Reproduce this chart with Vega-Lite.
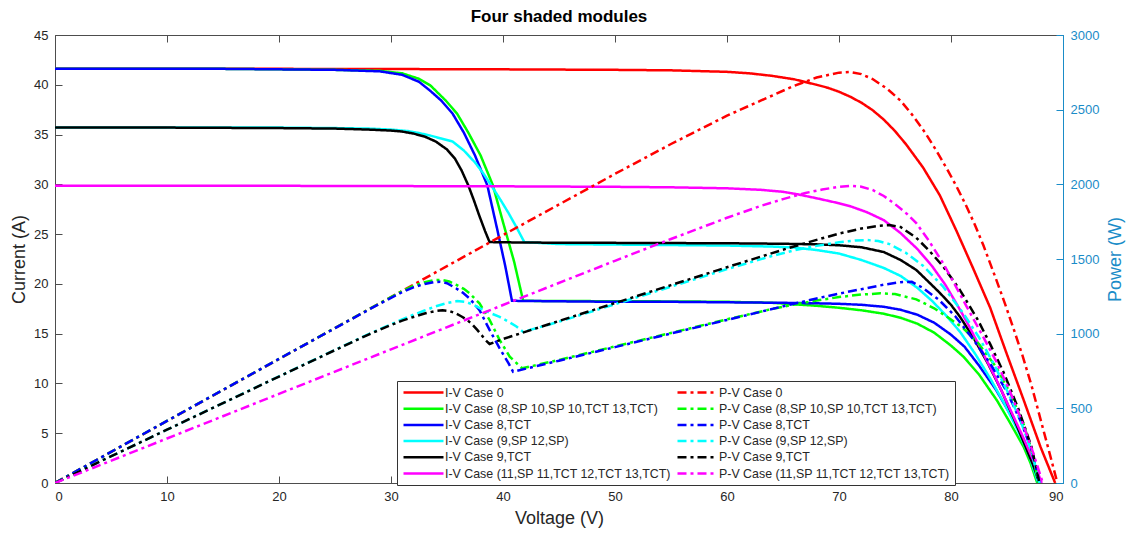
{
  "$schema": "https://vega.github.io/schema/vega-lite/v6.json",
  "width": 1008,
  "height": 448,
  "autosize": {"type": "none"},
  "padding": {"left": 55, "top": 35, "right": 69, "bottom": 51},
  "background": "white",
  "title": {"text": "Four shaded modules", "fontSize": 17, "fontWeight": "bold", "font": "Liberation Sans", "color": "#000000", "offset": 3, "anchor": "middle"},
  "datasets": {
    "iv": [
      {"s":"I-V Case 0","v":0,"y":41.6},{"s":"I-V Case 0","v":10,"y":41.6},{"s":"I-V Case 0","v":20,"y":41.6},{"s":"I-V Case 0","v":30,"y":41.58},{"s":"I-V Case 0","v":40,"y":41.55},{"s":"I-V Case 0","v":50,"y":41.5},{"s":"I-V Case 0","v":55,"y":41.45},{"s":"I-V Case 0","v":60,"y":41.3},{"s":"I-V Case 0","v":62,"y":41.15},{"s":"I-V Case 0","v":64,"y":40.9},{"s":"I-V Case 0","v":66,"y":40.55},{"s":"I-V Case 0","v":68,"y":40.0},{"s":"I-V Case 0","v":69,"y":39.7},{"s":"I-V Case 0","v":70,"y":39.3},{"s":"I-V Case 0","v":71,"y":38.8},{"s":"I-V Case 0","v":72,"y":38.2},{"s":"I-V Case 0","v":73,"y":37.45},{"s":"I-V Case 0","v":74,"y":36.5},{"s":"I-V Case 0","v":75,"y":35.35},{"s":"I-V Case 0","v":76,"y":34.0},{"s":"I-V Case 0","v":77.5,"y":31.7},{"s":"I-V Case 0","v":79,"y":28.9},{"s":"I-V Case 0","v":80.5,"y":25.3},{"s":"I-V Case 0","v":82,"y":21.5},{"s":"I-V Case 0","v":83.5,"y":17.6},{"s":"I-V Case 0","v":85,"y":12.9},{"s":"I-V Case 0","v":86.5,"y":8.3},{"s":"I-V Case 0","v":88,"y":3.6},{"s":"I-V Case 0","v":89.3,"y":0},
      {"s":"I-V Case (8,SP 10,SP 10,TCT 13,TCT)","v":0,"y":41.6},{"s":"I-V Case (8,SP 10,SP 10,TCT 13,TCT)","v":15,"y":41.6},{"s":"I-V Case (8,SP 10,SP 10,TCT 13,TCT)","v":25,"y":41.5},{"s":"I-V Case (8,SP 10,SP 10,TCT 13,TCT)","v":29,"y":41.4},{"s":"I-V Case (8,SP 10,SP 10,TCT 13,TCT)","v":31,"y":41.15},{"s":"I-V Case (8,SP 10,SP 10,TCT 13,TCT)","v":32.5,"y":40.6},{"s":"I-V Case (8,SP 10,SP 10,TCT 13,TCT)","v":33.5,"y":39.95},{"s":"I-V Case (8,SP 10,SP 10,TCT 13,TCT)","v":34.9,"y":38.4},{"s":"I-V Case (8,SP 10,SP 10,TCT 13,TCT)","v":35.9,"y":37.1},{"s":"I-V Case (8,SP 10,SP 10,TCT 13,TCT)","v":36.9,"y":35.2},{"s":"I-V Case (8,SP 10,SP 10,TCT 13,TCT)","v":38,"y":32.9},{"s":"I-V Case (8,SP 10,SP 10,TCT 13,TCT)","v":39.1,"y":29.9},{"s":"I-V Case (8,SP 10,SP 10,TCT 13,TCT)","v":40,"y":26.2},{"s":"I-V Case (8,SP 10,SP 10,TCT 13,TCT)","v":41,"y":22.2},{"s":"I-V Case (8,SP 10,SP 10,TCT 13,TCT)","v":41.8,"y":18.3},{"s":"I-V Case (8,SP 10,SP 10,TCT 13,TCT)","v":45,"y":18.28},{"s":"I-V Case (8,SP 10,SP 10,TCT 13,TCT)","v":50,"y":18.26},{"s":"I-V Case (8,SP 10,SP 10,TCT 13,TCT)","v":55,"y":18.24},{"s":"I-V Case (8,SP 10,SP 10,TCT 13,TCT)","v":60,"y":18.2},{"s":"I-V Case (8,SP 10,SP 10,TCT 13,TCT)","v":64,"y":18.1},{"s":"I-V Case (8,SP 10,SP 10,TCT 13,TCT)","v":66,"y":17.95},{"s":"I-V Case (8,SP 10,SP 10,TCT 13,TCT)","v":68,"y":17.8},{"s":"I-V Case (8,SP 10,SP 10,TCT 13,TCT)","v":70,"y":17.6},{"s":"I-V Case (8,SP 10,SP 10,TCT 13,TCT)","v":72,"y":17.35},{"s":"I-V Case (8,SP 10,SP 10,TCT 13,TCT)","v":74,"y":17.0},{"s":"I-V Case (8,SP 10,SP 10,TCT 13,TCT)","v":75.5,"y":16.6},{"s":"I-V Case (8,SP 10,SP 10,TCT 13,TCT)","v":77,"y":16.0},{"s":"I-V Case (8,SP 10,SP 10,TCT 13,TCT)","v":78.5,"y":15.1},{"s":"I-V Case (8,SP 10,SP 10,TCT 13,TCT)","v":80,"y":13.8},{"s":"I-V Case (8,SP 10,SP 10,TCT 13,TCT)","v":81.1,"y":12.7},{"s":"I-V Case (8,SP 10,SP 10,TCT 13,TCT)","v":82.5,"y":10.9},{"s":"I-V Case (8,SP 10,SP 10,TCT 13,TCT)","v":84.1,"y":8.3},{"s":"I-V Case (8,SP 10,SP 10,TCT 13,TCT)","v":85.3,"y":6.0},{"s":"I-V Case (8,SP 10,SP 10,TCT 13,TCT)","v":86.5,"y":3.6},{"s":"I-V Case (8,SP 10,SP 10,TCT 13,TCT)","v":87.1,"y":2.0},{"s":"I-V Case (8,SP 10,SP 10,TCT 13,TCT)","v":87.7,"y":0},
      {"s":"I-V Case 8,TCT","v":0,"y":41.6},{"s":"I-V Case 8,TCT","v":15,"y":41.6},{"s":"I-V Case 8,TCT","v":25,"y":41.5},{"s":"I-V Case 8,TCT","v":29,"y":41.35},{"s":"I-V Case 8,TCT","v":31,"y":41.0},{"s":"I-V Case 8,TCT","v":32.5,"y":40.3},{"s":"I-V Case 8,TCT","v":33.5,"y":39.4},{"s":"I-V Case 8,TCT","v":34.5,"y":38.4},{"s":"I-V Case 8,TCT","v":35.5,"y":37.1},{"s":"I-V Case 8,TCT","v":36.5,"y":35.2},{"s":"I-V Case 8,TCT","v":37.5,"y":32.9},{"s":"I-V Case 8,TCT","v":38.6,"y":29.9},{"s":"I-V Case 8,TCT","v":39.5,"y":25.4},{"s":"I-V Case 8,TCT","v":40.2,"y":21.8},{"s":"I-V Case 8,TCT","v":40.8,"y":18.3},{"s":"I-V Case 8,TCT","v":45,"y":18.25},{"s":"I-V Case 8,TCT","v":50,"y":18.2},{"s":"I-V Case 8,TCT","v":55,"y":18.2},{"s":"I-V Case 8,TCT","v":60,"y":18.15},{"s":"I-V Case 8,TCT","v":65,"y":18.1},{"s":"I-V Case 8,TCT","v":68,"y":18.05},{"s":"I-V Case 8,TCT","v":70,"y":18.0},{"s":"I-V Case 8,TCT","v":72,"y":17.9},{"s":"I-V Case 8,TCT","v":74,"y":17.7},{"s":"I-V Case 8,TCT","v":75.5,"y":17.4},{"s":"I-V Case 8,TCT","v":77,"y":16.9},{"s":"I-V Case 8,TCT","v":78.5,"y":16.1},{"s":"I-V Case 8,TCT","v":80,"y":14.9},{"s":"I-V Case 8,TCT","v":81.2,"y":13.7},{"s":"I-V Case 8,TCT","v":82.5,"y":11.8},{"s":"I-V Case 8,TCT","v":84,"y":9.4},{"s":"I-V Case 8,TCT","v":85.3,"y":6.9},{"s":"I-V Case 8,TCT","v":86.5,"y":4.3},{"s":"I-V Case 8,TCT","v":87.2,"y":2.5},{"s":"I-V Case 8,TCT","v":87.8,"y":0},
      {"s":"I-V Case (9,SP 12,SP)","v":0,"y":35.7},{"s":"I-V Case (9,SP 12,SP)","v":10,"y":35.7},{"s":"I-V Case (9,SP 12,SP)","v":20,"y":35.7},{"s":"I-V Case (9,SP 12,SP)","v":25,"y":35.65},{"s":"I-V Case (9,SP 12,SP)","v":28,"y":35.6},{"s":"I-V Case (9,SP 12,SP)","v":30,"y":35.5},{"s":"I-V Case (9,SP 12,SP)","v":31.5,"y":35.35},{"s":"I-V Case (9,SP 12,SP)","v":32.5,"y":35.15},{"s":"I-V Case (9,SP 12,SP)","v":33.5,"y":34.9},{"s":"I-V Case (9,SP 12,SP)","v":34.5,"y":34.6},{"s":"I-V Case (9,SP 12,SP)","v":35.5,"y":34.3},{"s":"I-V Case (9,SP 12,SP)","v":36.5,"y":33.4},{"s":"I-V Case (9,SP 12,SP)","v":37.5,"y":32.2},{"s":"I-V Case (9,SP 12,SP)","v":38.3,"y":31.0},{"s":"I-V Case (9,SP 12,SP)","v":39,"y":29.8},{"s":"I-V Case (9,SP 12,SP)","v":39.8,"y":28.4},{"s":"I-V Case (9,SP 12,SP)","v":40.5,"y":27.1},{"s":"I-V Case (9,SP 12,SP)","v":41.2,"y":25.7},{"s":"I-V Case (9,SP 12,SP)","v":41.9,"y":24.2},{"s":"I-V Case (9,SP 12,SP)","v":45,"y":24.0},{"s":"I-V Case (9,SP 12,SP)","v":50,"y":23.95},{"s":"I-V Case (9,SP 12,SP)","v":55,"y":23.9},{"s":"I-V Case (9,SP 12,SP)","v":60,"y":23.85},{"s":"I-V Case (9,SP 12,SP)","v":64,"y":23.75},{"s":"I-V Case (9,SP 12,SP)","v":66,"y":23.65},{"s":"I-V Case (9,SP 12,SP)","v":68,"y":23.4},{"s":"I-V Case (9,SP 12,SP)","v":70,"y":23.05},{"s":"I-V Case (9,SP 12,SP)","v":72,"y":22.4},{"s":"I-V Case (9,SP 12,SP)","v":74,"y":21.6},{"s":"I-V Case (9,SP 12,SP)","v":75.5,"y":20.8},{"s":"I-V Case (9,SP 12,SP)","v":77,"y":19.6},{"s":"I-V Case (9,SP 12,SP)","v":78.3,"y":18.3},{"s":"I-V Case (9,SP 12,SP)","v":79.5,"y":16.9},{"s":"I-V Case (9,SP 12,SP)","v":80.8,"y":15.2},{"s":"I-V Case (9,SP 12,SP)","v":82.2,"y":12.9},{"s":"I-V Case (9,SP 12,SP)","v":83.5,"y":10.5},{"s":"I-V Case (9,SP 12,SP)","v":84.8,"y":7.9},{"s":"I-V Case (9,SP 12,SP)","v":86,"y":5.2},{"s":"I-V Case (9,SP 12,SP)","v":87,"y":2.7},{"s":"I-V Case (9,SP 12,SP)","v":87.8,"y":0},
      {"s":"I-V Case 9,TCT","v":0,"y":35.7},{"s":"I-V Case 9,TCT","v":10,"y":35.7},{"s":"I-V Case 9,TCT","v":20,"y":35.65},{"s":"I-V Case 9,TCT","v":25,"y":35.6},{"s":"I-V Case 9,TCT","v":28,"y":35.5},{"s":"I-V Case 9,TCT","v":30,"y":35.4},{"s":"I-V Case 9,TCT","v":31,"y":35.3},{"s":"I-V Case 9,TCT","v":32,"y":35.1},{"s":"I-V Case 9,TCT","v":33,"y":34.8},{"s":"I-V Case 9,TCT","v":34,"y":34.3},{"s":"I-V Case 9,TCT","v":35,"y":33.5},{"s":"I-V Case 9,TCT","v":35.7,"y":32.6},{"s":"I-V Case 9,TCT","v":36.3,"y":31.4},{"s":"I-V Case 9,TCT","v":36.9,"y":29.9},{"s":"I-V Case 9,TCT","v":37.4,"y":28.4},{"s":"I-V Case 9,TCT","v":37.9,"y":26.8},{"s":"I-V Case 9,TCT","v":38.4,"y":25.3},{"s":"I-V Case 9,TCT","v":38.8,"y":24.2},{"s":"I-V Case 9,TCT","v":42,"y":24.15},{"s":"I-V Case 9,TCT","v":50,"y":24.12},{"s":"I-V Case 9,TCT","v":60,"y":24.08},{"s":"I-V Case 9,TCT","v":65,"y":24.03},{"s":"I-V Case 9,TCT","v":68,"y":23.97},{"s":"I-V Case 9,TCT","v":70,"y":23.88},{"s":"I-V Case 9,TCT","v":72,"y":23.68},{"s":"I-V Case 9,TCT","v":74,"y":23.2},{"s":"I-V Case 9,TCT","v":75.5,"y":22.4},{"s":"I-V Case 9,TCT","v":76.9,"y":21.4},{"s":"I-V Case 9,TCT","v":78,"y":20.2},{"s":"I-V Case 9,TCT","v":79,"y":19.1},{"s":"I-V Case 9,TCT","v":80,"y":17.9},{"s":"I-V Case 9,TCT","v":80.8,"y":16.7},{"s":"I-V Case 9,TCT","v":82,"y":14.6},{"s":"I-V Case 9,TCT","v":83.3,"y":12.0},{"s":"I-V Case 9,TCT","v":84.5,"y":9.3},{"s":"I-V Case 9,TCT","v":85.6,"y":6.5},{"s":"I-V Case 9,TCT","v":86.6,"y":3.8},{"s":"I-V Case 9,TCT","v":87.3,"y":1.9},{"s":"I-V Case 9,TCT","v":87.9,"y":0},
      {"s":"I-V Case (11,SP 11,TCT 12,TCT 13,TCT)","v":0,"y":29.85},{"s":"I-V Case (11,SP 11,TCT 12,TCT 13,TCT)","v":20,"y":29.85},{"s":"I-V Case (11,SP 11,TCT 12,TCT 13,TCT)","v":40,"y":29.8},{"s":"I-V Case (11,SP 11,TCT 12,TCT 13,TCT)","v":50,"y":29.75},{"s":"I-V Case (11,SP 11,TCT 12,TCT 13,TCT)","v":55,"y":29.7},{"s":"I-V Case (11,SP 11,TCT 12,TCT 13,TCT)","v":60,"y":29.6},{"s":"I-V Case (11,SP 11,TCT 12,TCT 13,TCT)","v":63,"y":29.45},{"s":"I-V Case (11,SP 11,TCT 12,TCT 13,TCT)","v":65,"y":29.25},{"s":"I-V Case (11,SP 11,TCT 12,TCT 13,TCT)","v":66.3,"y":29.0},{"s":"I-V Case (11,SP 11,TCT 12,TCT 13,TCT)","v":68,"y":28.6},{"s":"I-V Case (11,SP 11,TCT 12,TCT 13,TCT)","v":70,"y":28.1},{"s":"I-V Case (11,SP 11,TCT 12,TCT 13,TCT)","v":71,"y":27.8},{"s":"I-V Case (11,SP 11,TCT 12,TCT 13,TCT)","v":72.5,"y":27.2},{"s":"I-V Case (11,SP 11,TCT 12,TCT 13,TCT)","v":74,"y":26.4},{"s":"I-V Case (11,SP 11,TCT 12,TCT 13,TCT)","v":75.5,"y":25.1},{"s":"I-V Case (11,SP 11,TCT 12,TCT 13,TCT)","v":77,"y":23.5},{"s":"I-V Case (11,SP 11,TCT 12,TCT 13,TCT)","v":78.3,"y":21.8},{"s":"I-V Case (11,SP 11,TCT 12,TCT 13,TCT)","v":79.5,"y":19.9},{"s":"I-V Case (11,SP 11,TCT 12,TCT 13,TCT)","v":80.5,"y":18.0},{"s":"I-V Case (11,SP 11,TCT 12,TCT 13,TCT)","v":81.5,"y":16.0},{"s":"I-V Case (11,SP 11,TCT 12,TCT 13,TCT)","v":82.7,"y":13.4},{"s":"I-V Case (11,SP 11,TCT 12,TCT 13,TCT)","v":84,"y":10.5},{"s":"I-V Case (11,SP 11,TCT 12,TCT 13,TCT)","v":85.2,"y":7.6},{"s":"I-V Case (11,SP 11,TCT 12,TCT 13,TCT)","v":86.4,"y":4.7},{"s":"I-V Case (11,SP 11,TCT 12,TCT 13,TCT)","v":87.3,"y":2.4},{"s":"I-V Case (11,SP 11,TCT 12,TCT 13,TCT)","v":88.1,"y":0}
    ],
    "pv": [
      {"s":"P-V Case 0","v":0,"y":0},{"s":"P-V Case 0","v":10,"y":415},{"s":"P-V Case 0","v":20,"y":830},{"s":"P-V Case 0","v":30,"y":1245},{"s":"P-V Case 0","v":40,"y":1660},{"s":"P-V Case 0","v":50,"y":2070},{"s":"P-V Case 0","v":55,"y":2270},{"s":"P-V Case 0","v":60,"y":2460},{"s":"P-V Case 0","v":63,"y":2560},{"s":"P-V Case 0","v":66,"y":2660},{"s":"P-V Case 0","v":68,"y":2715},{"s":"P-V Case 0","v":70,"y":2748},{"s":"P-V Case 0","v":71,"y":2752},{"s":"P-V Case 0","v":72,"y":2738},{"s":"P-V Case 0","v":73,"y":2705},{"s":"P-V Case 0","v":74.3,"y":2640},{"s":"P-V Case 0","v":75.5,"y":2560},{"s":"P-V Case 0","v":76.6,"y":2460},{"s":"P-V Case 0","v":77.7,"y":2345},{"s":"P-V Case 0","v":78.7,"y":2225},{"s":"P-V Case 0","v":79.7,"y":2095},{"s":"P-V Case 0","v":80.5,"y":1985},{"s":"P-V Case 0","v":81.3,"y":1865},{"s":"P-V Case 0","v":82.1,"y":1735},{"s":"P-V Case 0","v":82.9,"y":1590},{"s":"P-V Case 0","v":84,"y":1370},{"s":"P-V Case 0","v":84.8,"y":1205},{"s":"P-V Case 0","v":85.6,"y":1030},{"s":"P-V Case 0","v":86.4,"y":850},{"s":"P-V Case 0","v":87.2,"y":650},{"s":"P-V Case 0","v":88,"y":425},{"s":"P-V Case 0","v":88.8,"y":200},{"s":"P-V Case 0","v":89.5,"y":0},
      {"s":"P-V Case (8,SP 10,SP 10,TCT 13,TCT)","v":0,"y":0},{"s":"P-V Case (8,SP 10,SP 10,TCT 13,TCT)","v":10,"y":416},{"s":"P-V Case (8,SP 10,SP 10,TCT 13,TCT)","v":20,"y":831},{"s":"P-V Case (8,SP 10,SP 10,TCT 13,TCT)","v":25,"y":1038},{"s":"P-V Case (8,SP 10,SP 10,TCT 13,TCT)","v":28,"y":1162},{"s":"P-V Case (8,SP 10,SP 10,TCT 13,TCT)","v":30,"y":1245},{"s":"P-V Case (8,SP 10,SP 10,TCT 13,TCT)","v":31,"y":1285},{"s":"P-V Case (8,SP 10,SP 10,TCT 13,TCT)","v":32,"y":1320},{"s":"P-V Case (8,SP 10,SP 10,TCT 13,TCT)","v":33,"y":1345},{"s":"P-V Case (8,SP 10,SP 10,TCT 13,TCT)","v":33.8,"y":1358},{"s":"P-V Case (8,SP 10,SP 10,TCT 13,TCT)","v":34.5,"y":1360},{"s":"P-V Case (8,SP 10,SP 10,TCT 13,TCT)","v":35.2,"y":1350},{"s":"P-V Case (8,SP 10,SP 10,TCT 13,TCT)","v":35.8,"y":1328},{"s":"P-V Case (8,SP 10,SP 10,TCT 13,TCT)","v":36.5,"y":1300},{"s":"P-V Case (8,SP 10,SP 10,TCT 13,TCT)","v":37,"y":1272},{"s":"P-V Case (8,SP 10,SP 10,TCT 13,TCT)","v":37.9,"y":1203},{"s":"P-V Case (8,SP 10,SP 10,TCT 13,TCT)","v":38.8,"y":1092},{"s":"P-V Case (8,SP 10,SP 10,TCT 13,TCT)","v":39.7,"y":958},{"s":"P-V Case (8,SP 10,SP 10,TCT 13,TCT)","v":40.6,"y":846},{"s":"P-V Case (8,SP 10,SP 10,TCT 13,TCT)","v":41.7,"y":768},{"s":"P-V Case (8,SP 10,SP 10,TCT 13,TCT)","v":45,"y":824},{"s":"P-V Case (8,SP 10,SP 10,TCT 13,TCT)","v":50,"y":915},{"s":"P-V Case (8,SP 10,SP 10,TCT 13,TCT)","v":55,"y":1005},{"s":"P-V Case (8,SP 10,SP 10,TCT 13,TCT)","v":60,"y":1096},{"s":"P-V Case (8,SP 10,SP 10,TCT 13,TCT)","v":64,"y":1165},{"s":"P-V Case (8,SP 10,SP 10,TCT 13,TCT)","v":66,"y":1195},{"s":"P-V Case (8,SP 10,SP 10,TCT 13,TCT)","v":68,"y":1222},{"s":"P-V Case (8,SP 10,SP 10,TCT 13,TCT)","v":70,"y":1245},{"s":"P-V Case (8,SP 10,SP 10,TCT 13,TCT)","v":72,"y":1262},{"s":"P-V Case (8,SP 10,SP 10,TCT 13,TCT)","v":73.7,"y":1270},{"s":"P-V Case (8,SP 10,SP 10,TCT 13,TCT)","v":75,"y":1265},{"s":"P-V Case (8,SP 10,SP 10,TCT 13,TCT)","v":76.9,"y":1230},{"s":"P-V Case (8,SP 10,SP 10,TCT 13,TCT)","v":78.5,"y":1170},{"s":"P-V Case (8,SP 10,SP 10,TCT 13,TCT)","v":80,"y":1095},{"s":"P-V Case (8,SP 10,SP 10,TCT 13,TCT)","v":81.1,"y":1036},{"s":"P-V Case (8,SP 10,SP 10,TCT 13,TCT)","v":82.5,"y":930},{"s":"P-V Case (8,SP 10,SP 10,TCT 13,TCT)","v":84,"y":780},{"s":"P-V Case (8,SP 10,SP 10,TCT 13,TCT)","v":85.3,"y":600},{"s":"P-V Case (8,SP 10,SP 10,TCT 13,TCT)","v":86.5,"y":390},{"s":"P-V Case (8,SP 10,SP 10,TCT 13,TCT)","v":87.2,"y":220},{"s":"P-V Case (8,SP 10,SP 10,TCT 13,TCT)","v":87.8,"y":0},
      {"s":"P-V Case 8,TCT","v":0,"y":0},{"s":"P-V Case 8,TCT","v":10,"y":416},{"s":"P-V Case 8,TCT","v":20,"y":831},{"s":"P-V Case 8,TCT","v":25,"y":1037},{"s":"P-V Case 8,TCT","v":28,"y":1160},{"s":"P-V Case 8,TCT","v":30,"y":1240},{"s":"P-V Case 8,TCT","v":31,"y":1278},{"s":"P-V Case 8,TCT","v":32,"y":1310},{"s":"P-V Case 8,TCT","v":33,"y":1333},{"s":"P-V Case 8,TCT","v":33.8,"y":1345},{"s":"P-V Case 8,TCT","v":34.4,"y":1347},{"s":"P-V Case 8,TCT","v":35,"y":1338},{"s":"P-V Case 8,TCT","v":35.8,"y":1304},{"s":"P-V Case 8,TCT","v":36.4,"y":1275},{"s":"P-V Case 8,TCT","v":37,"y":1237},{"s":"P-V Case 8,TCT","v":37.9,"y":1158},{"s":"P-V Case 8,TCT","v":38.8,"y":1025},{"s":"P-V Case 8,TCT","v":39.7,"y":902},{"s":"P-V Case 8,TCT","v":40.5,"y":801},{"s":"P-V Case 8,TCT","v":40.9,"y":745},{"s":"P-V Case 8,TCT","v":45,"y":819},{"s":"P-V Case 8,TCT","v":50,"y":910},{"s":"P-V Case 8,TCT","v":55,"y":1001},{"s":"P-V Case 8,TCT","v":60,"y":1092},{"s":"P-V Case 8,TCT","v":65,"y":1183},{"s":"P-V Case 8,TCT","v":68,"y":1236},{"s":"P-V Case 8,TCT","v":70,"y":1268},{"s":"P-V Case 8,TCT","v":72,"y":1298},{"s":"P-V Case 8,TCT","v":74,"y":1328},{"s":"P-V Case 8,TCT","v":75.5,"y":1345},{"s":"P-V Case 8,TCT","v":76.5,"y":1347},{"s":"P-V Case 8,TCT","v":77.4,"y":1310},{"s":"P-V Case 8,TCT","v":78.9,"y":1228},{"s":"P-V Case 8,TCT","v":80.4,"y":1115},{"s":"P-V Case 8,TCT","v":82,"y":960},{"s":"P-V Case 8,TCT","v":83.5,"y":800},{"s":"P-V Case 8,TCT","v":85,"y":610},{"s":"P-V Case 8,TCT","v":86.3,"y":400},{"s":"P-V Case 8,TCT","v":87.2,"y":220},{"s":"P-V Case 8,TCT","v":87.9,"y":0},
      {"s":"P-V Case (9,SP 12,SP)","v":0,"y":0},{"s":"P-V Case (9,SP 12,SP)","v":10,"y":357},{"s":"P-V Case (9,SP 12,SP)","v":20,"y":714},{"s":"P-V Case (9,SP 12,SP)","v":25,"y":891},{"s":"P-V Case (9,SP 12,SP)","v":28,"y":997},{"s":"P-V Case (9,SP 12,SP)","v":30,"y":1063},{"s":"P-V Case (9,SP 12,SP)","v":31.7,"y":1118},{"s":"P-V Case (9,SP 12,SP)","v":33,"y":1155},{"s":"P-V Case (9,SP 12,SP)","v":34,"y":1183},{"s":"P-V Case (9,SP 12,SP)","v":35,"y":1205},{"s":"P-V Case (9,SP 12,SP)","v":35.9,"y":1218},{"s":"P-V Case (9,SP 12,SP)","v":36.7,"y":1212},{"s":"P-V Case (9,SP 12,SP)","v":37.35,"y":1194},{"s":"P-V Case (9,SP 12,SP)","v":38,"y":1168},{"s":"P-V Case (9,SP 12,SP)","v":38.8,"y":1140},{"s":"P-V Case (9,SP 12,SP)","v":39.7,"y":1112},{"s":"P-V Case (9,SP 12,SP)","v":40.5,"y":1080},{"s":"P-V Case (9,SP 12,SP)","v":41.2,"y":1048},{"s":"P-V Case (9,SP 12,SP)","v":41.8,"y":1012},{"s":"P-V Case (9,SP 12,SP)","v":45,"y":1080},{"s":"P-V Case (9,SP 12,SP)","v":50,"y":1197},{"s":"P-V Case (9,SP 12,SP)","v":55,"y":1315},{"s":"P-V Case (9,SP 12,SP)","v":60,"y":1432},{"s":"P-V Case (9,SP 12,SP)","v":64,"y":1520},{"s":"P-V Case (9,SP 12,SP)","v":66,"y":1558},{"s":"P-V Case (9,SP 12,SP)","v":68,"y":1588},{"s":"P-V Case (9,SP 12,SP)","v":70,"y":1612},{"s":"P-V Case (9,SP 12,SP)","v":71.5,"y":1624},{"s":"P-V Case (9,SP 12,SP)","v":72.5,"y":1627},{"s":"P-V Case (9,SP 12,SP)","v":73.5,"y":1620},{"s":"P-V Case (9,SP 12,SP)","v":74.5,"y":1600},{"s":"P-V Case (9,SP 12,SP)","v":76,"y":1540},{"s":"P-V Case (9,SP 12,SP)","v":77.5,"y":1455},{"s":"P-V Case (9,SP 12,SP)","v":79.3,"y":1315},{"s":"P-V Case (9,SP 12,SP)","v":81.1,"y":1136},{"s":"P-V Case (9,SP 12,SP)","v":82.5,"y":975},{"s":"P-V Case (9,SP 12,SP)","v":83.8,"y":800},{"s":"P-V Case (9,SP 12,SP)","v":85,"y":620},{"s":"P-V Case (9,SP 12,SP)","v":86.2,"y":420},{"s":"P-V Case (9,SP 12,SP)","v":87.2,"y":210},{"s":"P-V Case (9,SP 12,SP)","v":87.9,"y":0},
      {"s":"P-V Case 9,TCT","v":0,"y":0},{"s":"P-V Case 9,TCT","v":10,"y":357},{"s":"P-V Case 9,TCT","v":20,"y":713},{"s":"P-V Case 9,TCT","v":25,"y":890},{"s":"P-V Case 9,TCT","v":28,"y":994},{"s":"P-V Case 9,TCT","v":30,"y":1058},{"s":"P-V Case 9,TCT","v":31,"y":1087},{"s":"P-V Case 9,TCT","v":32,"y":1112},{"s":"P-V Case 9,TCT","v":33,"y":1135},{"s":"P-V Case 9,TCT","v":34,"y":1152},{"s":"P-V Case 9,TCT","v":34.6,"y":1157},{"s":"P-V Case 9,TCT","v":35.2,"y":1152},{"s":"P-V Case 9,TCT","v":35.8,"y":1135},{"s":"P-V Case 9,TCT","v":36.3,"y":1115},{"s":"P-V Case 9,TCT","v":36.8,"y":1092},{"s":"P-V Case 9,TCT","v":37.3,"y":1058},{"s":"P-V Case 9,TCT","v":37.7,"y":1025},{"s":"P-V Case 9,TCT","v":38.1,"y":990},{"s":"P-V Case 9,TCT","v":38.4,"y":960},{"s":"P-V Case 9,TCT","v":38.8,"y":931},{"s":"P-V Case 9,TCT","v":40,"y":964},{"s":"P-V Case 9,TCT","v":45,"y":1085},{"s":"P-V Case 9,TCT","v":50,"y":1205},{"s":"P-V Case 9,TCT","v":55,"y":1325},{"s":"P-V Case 9,TCT","v":60,"y":1445},{"s":"P-V Case 9,TCT","v":65,"y":1562},{"s":"P-V Case 9,TCT","v":68,"y":1628},{"s":"P-V Case 9,TCT","v":70,"y":1670},{"s":"P-V Case 9,TCT","v":72,"y":1704},{"s":"P-V Case 9,TCT","v":73.5,"y":1722},{"s":"P-V Case 9,TCT","v":74.5,"y":1727},{"s":"P-V Case 9,TCT","v":75.5,"y":1714},{"s":"P-V Case 9,TCT","v":76.9,"y":1642},{"s":"P-V Case 9,TCT","v":78,"y":1560},{"s":"P-V Case 9,TCT","v":79.3,"y":1450},{"s":"P-V Case 9,TCT","v":80.8,"y":1292},{"s":"P-V Case 9,TCT","v":82.4,"y":1092},{"s":"P-V Case 9,TCT","v":83.5,"y":930},{"s":"P-V Case 9,TCT","v":84.7,"y":740},{"s":"P-V Case 9,TCT","v":86,"y":500},{"s":"P-V Case 9,TCT","v":87.2,"y":240},{"s":"P-V Case 9,TCT","v":87.9,"y":0},
      {"s":"P-V Case (11,SP 11,TCT 12,TCT 13,TCT)","v":0,"y":0},{"s":"P-V Case (11,SP 11,TCT 12,TCT 13,TCT)","v":10,"y":298},{"s":"P-V Case (11,SP 11,TCT 12,TCT 13,TCT)","v":20,"y":597},{"s":"P-V Case (11,SP 11,TCT 12,TCT 13,TCT)","v":30,"y":895},{"s":"P-V Case (11,SP 11,TCT 12,TCT 13,TCT)","v":40,"y":1192},{"s":"P-V Case (11,SP 11,TCT 12,TCT 13,TCT)","v":50,"y":1488},{"s":"P-V Case (11,SP 11,TCT 12,TCT 13,TCT)","v":55,"y":1634},{"s":"P-V Case (11,SP 11,TCT 12,TCT 13,TCT)","v":60,"y":1776},{"s":"P-V Case (11,SP 11,TCT 12,TCT 13,TCT)","v":63,"y":1855},{"s":"P-V Case (11,SP 11,TCT 12,TCT 13,TCT)","v":65,"y":1901},{"s":"P-V Case (11,SP 11,TCT 12,TCT 13,TCT)","v":67,"y":1942},{"s":"P-V Case (11,SP 11,TCT 12,TCT 13,TCT)","v":68.5,"y":1965},{"s":"P-V Case (11,SP 11,TCT 12,TCT 13,TCT)","v":70,"y":1984},{"s":"P-V Case (11,SP 11,TCT 12,TCT 13,TCT)","v":71,"y":1990},{"s":"P-V Case (11,SP 11,TCT 12,TCT 13,TCT)","v":72,"y":1984},{"s":"P-V Case (11,SP 11,TCT 12,TCT 13,TCT)","v":73,"y":1962},{"s":"P-V Case (11,SP 11,TCT 12,TCT 13,TCT)","v":74,"y":1922},{"s":"P-V Case (11,SP 11,TCT 12,TCT 13,TCT)","v":75,"y":1868},{"s":"P-V Case (11,SP 11,TCT 12,TCT 13,TCT)","v":76.1,"y":1800},{"s":"P-V Case (11,SP 11,TCT 12,TCT 13,TCT)","v":76.9,"y":1740},{"s":"P-V Case (11,SP 11,TCT 12,TCT 13,TCT)","v":78,"y":1625},{"s":"P-V Case (11,SP 11,TCT 12,TCT 13,TCT)","v":79.3,"y":1471},{"s":"P-V Case (11,SP 11,TCT 12,TCT 13,TCT)","v":80.3,"y":1335},{"s":"P-V Case (11,SP 11,TCT 12,TCT 13,TCT)","v":81.4,"y":1181},{"s":"P-V Case (11,SP 11,TCT 12,TCT 13,TCT)","v":82.9,"y":975},{"s":"P-V Case (11,SP 11,TCT 12,TCT 13,TCT)","v":84,"y":820},{"s":"P-V Case (11,SP 11,TCT 12,TCT 13,TCT)","v":85.2,"y":625},{"s":"P-V Case (11,SP 11,TCT 12,TCT 13,TCT)","v":86.4,"y":400},{"s":"P-V Case (11,SP 11,TCT 12,TCT 13,TCT)","v":87.3,"y":210},{"s":"P-V Case (11,SP 11,TCT 12,TCT 13,TCT)","v":88.2,"y":0}
    ]
  },
  "config": {
    "view": {"stroke": null},
    "axis": {"grid": false, "labelFont": "Liberation Sans", "titleFont": "Liberation Sans", "labelFontSize": 13, "titleFontSize": 18, "titleFontWeight": "normal", "labelColor": "#262626", "titleColor": "#262626", "domainColor": "#4d4d4d", "tickColor": "#4d4d4d", "tickSize": -7, "labelPadding": 14},
    "legend": {"labelFont": "Liberation Sans", "labelFontSize": 12.4, "labelColor": "#262626"}
  },
  "layer": [
    {
      "data": {"name": "iv"},
      "mark": {"type": "line", "strokeWidth": 2.5, "clip": true},
      "encoding": {
        "x": {"field": "v", "type": "quantitative", "scale": {"domain": [0, 90], "nice": false},
              "axis": {"orient": "bottom", "title": "Voltage (V)", "values": [0,10,20,30,40,50,60,70,80,90], "titlePadding": 6}},
        "y": {"field": "y", "type": "quantitative", "scale": {"domain": [0, 45], "nice": false},
              "axis": {"title": "Current (A)", "values": [0,5,10,15,20,25,30,35,40,45], "titlePadding": 5}},
        "color": {"field": "s", "type": "nominal",
          "scale": {"domain": ["I-V Case 0","I-V Case (8,SP 10,SP 10,TCT 13,TCT)","I-V Case 8,TCT","I-V Case (9,SP 12,SP)","I-V Case 9,TCT","I-V Case (11,SP 11,TCT 12,TCT 13,TCT)","P-V Case 0","P-V Case (8,SP 10,SP 10,TCT 13,TCT)","P-V Case 8,TCT","P-V Case (9,SP 12,SP)","P-V Case 9,TCT","P-V Case (11,SP 11,TCT 12,TCT 13,TCT)"],
                    "range": ["#ff0000","#00ff00","#0000ff","#00ffff","#000000","#ff00ff","#ff0000","#00ff00","#0000ff","#00ffff","#000000","#ff00ff"]},
          "legend": {"title": null, "orient": "none", "legendX": 342, "legendY": 346, "columns": 2, "symbolType": "M-4,0H4", "symbolSize": 100, "symbolOffset": 15, "symbolStrokeWidth": 2.5, "labelLimit": 400, "rowPadding": 3.2, "columnPadding": 0, "padding": 5, "labelOffset": 15, "strokeColor": "#333333", "fillColor": "#ffffff"}},
        "strokeDash": {"field": "s", "type": "nominal",
          "scale": {"domain": ["I-V Case 0","I-V Case (8,SP 10,SP 10,TCT 13,TCT)","I-V Case 8,TCT","I-V Case (9,SP 12,SP)","I-V Case 9,TCT","I-V Case (11,SP 11,TCT 12,TCT 13,TCT)","P-V Case 0","P-V Case (8,SP 10,SP 10,TCT 13,TCT)","P-V Case 8,TCT","P-V Case (9,SP 12,SP)","P-V Case 9,TCT","P-V Case (11,SP 11,TCT 12,TCT 13,TCT)"],
                    "range": [[1,0],[1,0],[1,0],[1,0],[1,0],[1,0],[9,4,3,4],[9,4,3,4],[9,4,3,4],[9,4,3,4],[9,4,3,4],[9,4,3,4]]}}
      }
    },
    {
      "data": {"name": "pv"},
      "mark": {"type": "line", "strokeWidth": 2.5, "clip": true},
      "encoding": {
        "x": {"field": "v", "type": "quantitative", "scale": {"domain": [0, 90], "nice": false},
              "axis": {"orient": "top", "title": null, "labels": false, "values": [0,10,20,30,40,50,60,70,80,90]}},
        "y": {"field": "y", "type": "quantitative", "scale": {"domain": [0, 3000], "nice": false},
              "axis": {"orient": "right", "title": "Power (W)", "format": "d", "values": [0,500,1000,1500,2000,2500,3000], "domainColor": "#1a8cc8", "tickColor": "#1a8cc8", "labelColor": "#1a8cc8", "titleColor": "#1a8cc8", "titleAngle": 270, "titleBaseline": "top", "titlePadding": 8}},
        "color": {"field": "s", "type": "nominal"},
        "strokeDash": {"field": "s", "type": "nominal"}
      }
    }
  ],
  "resolve": {"scale": {"y": "independent"}, "axis": {"y": "independent", "x": "independent"}}
}
